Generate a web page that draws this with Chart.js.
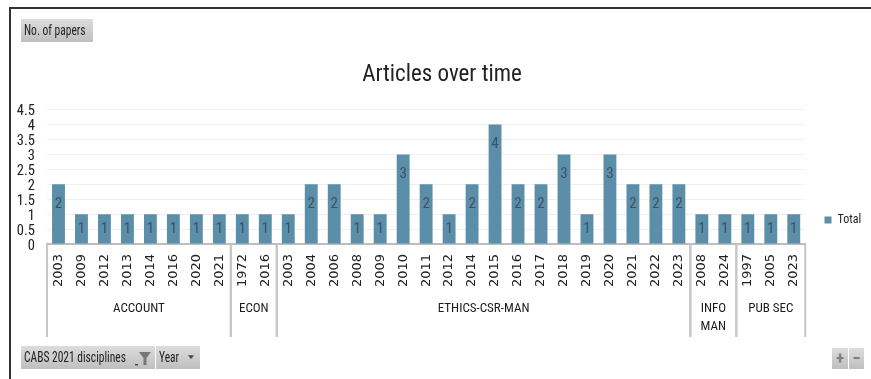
<!DOCTYPE html>
<html>
<head>
<meta charset="utf-8">
<title>Articles over time</title>
<script src="https://cdn.jsdelivr.net/npm/chart.js@4"></script>
<style>
  html, body { margin: 0; padding: 0; background: #fff; width: 871px; height: 379px; overflow: hidden; }
  #wrap { position: relative; width: 871px; height: 379px; }
  canvas { position: absolute; left: 0; top: 0; }
  #frame { position: absolute; left: 9px; top: 7px; right: 0; bottom: 0; border-left: 2px solid #333; border-top: 2px solid #333; }
  .btn { position: absolute; box-sizing: border-box; height: 23px; background: linear-gradient(#dcdcdc, #bfbfbf);
         font: 14px/23px "Roboto Condensed", sans-serif; color: #222; white-space: nowrap; padding-left: 3px; }
  .btn span { display: inline-block; transform: scaleX(0.82); transform-origin: left center; }
  .btn svg { position: absolute; }
  .zoom { text-align: center; padding: 0; color: #7d7d7d; font-weight: bold; font-size: 17px; }
</style>
</head>
<body>
<div id="wrap">
  <canvas id="chart" width="871" height="379"></canvas>
  <div id="frame"></div>
  <div class="btn" style="left:21px;top:19px;width:72px"><span>No. of papers</span></div>
  <div class="btn" style="left:21px;top:346px;width:134px"><span>CABS 2021 disciplines</span>
    <svg style="left:111px;top:3px" width="20" height="18" viewBox="0 0 20 18"><path d="M3 15h3v1.5H3z" fill="#444"/><path d="M7 3h12l-4.5 6v7h-3V9z" fill="#777"/></svg>
  </div>
  <div class="btn" style="left:156px;top:346px;width:44px"><span>Year</span>
    <svg style="left:32px;top:9px" width="6" height="5" viewBox="0 0 8 6"><path d="M0 0h8L4 5z" fill="#444"/></svg>
  </div>
  <div class="btn zoom" style="left:832px;top:348px;width:16px;height:21px;line-height:21px">+</div>
  <div class="btn zoom" style="left:849px;top:348px;width:15px;height:21px;line-height:21px">&minus;</div>
</div>
<script>
// Papers per year, grouped by CABS 2021 discipline.
const disciplines = [["ACCOUNT"], ["ECON"], ["ETHICS-CSR-MAN"], ["INFO", "MAN"], ["PUB SEC"]];
const accountYears = ["2003","2009","2012","2013","2014","2016","2020","2021"];
const accountCounts = [2,1,1,1,1,1,1,1];
const econYears = ["1972","2016"];
const econCounts = [1,1];
const ethicsYears = ["2003","2004","2006","2008","2009","2010","2011","2012","2014","2015","2016","2017","2018","2019","2020","2021","2022","2023"];
const ethicsCounts = [1,2,2,1,1,3,2,1,2,4,2,2,3,1,3,2,2,2];
const infoYears = ["2008","2024"];
const infoCounts = [1,1];
const pubYears = ["1997","2005","2023"];
const pubCounts = [1,1,1];

const yearGroups = [accountYears, econYears, ethicsYears, infoYears, pubYears];
const years = yearGroups.flat();
const counts = [accountCounts, econCounts, ethicsCounts, infoCounts, pubCounts].flat();

const NARROW = '"Roboto Condensed", sans-serif';
const BAR = '#5b8ea9';

// Value labels inside each bar: near the top edge, centred on short bars.
const valueLabels = {
  id: 'valueLabels',
  afterDatasetsDraw(chart) {
    const { ctx } = chart;
    ctx.save();
    ctx.font = '15px ' + NARROW;
    ctx.fillStyle = '#3f5160';
    ctx.textAlign = 'center';
    ctx.textBaseline = 'middle';
    chart.getDatasetMeta(0).data.forEach((bar, i) => {
      const y = Math.min(bar.y + 19.5, (bar.y + bar.base) / 2);
      ctx.fillText(String(counts[i]), bar.x, y);
    });
    ctx.restore();
  }
};

// Second axis level: discipline names with separators between groups.
const groupAxis = {
  id: 'groupAxis',
  afterDraw(chart) {
    const { ctx, chartArea } = chart;
    const x = chart.scales.x;
    const half = (x.getPixelForValue(1) - x.getPixelForValue(0)) / 2;
    const top = chartArea.bottom;
    ctx.save();
    ctx.strokeStyle = '#c6c6c6';
    ctx.lineWidth = 2;
    ctx.fillStyle = '#1c1c1c';
    ctx.font = '13px ' + NARROW;
    ctx.textAlign = 'center';
    ctx.textBaseline = 'middle';
    let start = 0;
    yearGroups.forEach((group, g) => {
      const left = x.getPixelForValue(start) - half;
      const right = x.getPixelForValue(start + group.length - 1) + half;
      [left, right].forEach(px => {
        ctx.beginPath();
        ctx.moveTo(px, top);
        ctx.lineTo(px, top + 93);
        ctx.stroke();
      });
      disciplines[g].forEach((line, l) => {
        ctx.fillText(line, (left + right) / 2, top + 65 + l * 18);
      });
      start += group.length;
    });
    ctx.restore();
  }
};

// Title, legend and value-axis labels sit at fixed offsets from the plot.
const placement = {
  id: 'placement',
  beforeDraw(chart) {
    const legend = chart.legend;
    const dx = 824.5 - 10 - legend.left;
    legend.left += dx; legend.right += dx;
    const h = legend.bottom - legend.top;
    legend.top = 220 - h / 2; legend.bottom = legend.top + h;
    const t = chart.titleBlock;
    const shift = 442 - (t.left + t.right) / 2;
    t.left += shift; t.right += shift;
    chart.scales.y.getLabelItems().forEach(item => { item.options.translation[1] += 2; });
  }
};

new Chart(document.getElementById('chart'), {
  type: 'bar',
  data: {
    labels: years,
    datasets: [{ label: 'Total', data: counts, backgroundColor: BAR, barPercentage: 0.56, categoryPercentage: 1 }]
  },
  plugins: [valueLabels, groupAxis, placement],
  options: {
    responsive: false,
    animation: false,
    layout: { padding: { left: 0, right: 9, top: 0, bottom: 0 } },
    plugins: {
      tooltip: { enabled: false },
      title: {
        display: true,
        text: 'Articles over time',
        color: '#222',
        font: { family: NARROW, size: 23, weight: 'normal' },
        padding: { top: 61, bottom: 21 }
      },
      legend: {
        position: 'right',
        align: 'center',
        labels: {
          boxWidth: 7, boxHeight: 7, padding: 10,
          color: '#222',
          font: { family: NARROW, size: 12 }
        }
      }
    },
    scales: {
      x: {
        grid: { display: false, drawTicks: false },
        border: { color: '#bdbdbd', width: 2 },
        ticks: {
          autoSkip: false, minRotation: 90, maxRotation: 90, padding: 10,
          color: '#222',
          font: { family: '"DejaVu Sans"', size: 13 }
        },
        afterFit(scale) { scale.height = 135; }
      },
      y: {
        min: 0, max: 4.5,
        grid: { color: '#efefef', drawTicks: false },
        border: { display: false },
        ticks: {
          stepSize: 0.5, autoSkip: false, padding: 12,
          color: '#222',
          font: { family: NARROW, size: 14.5 },
          callback: v => String(v)
        },
        afterFit(scale) { scale.width = 47; }
      }
    }
  }
});
</script>
</body>
</html>
